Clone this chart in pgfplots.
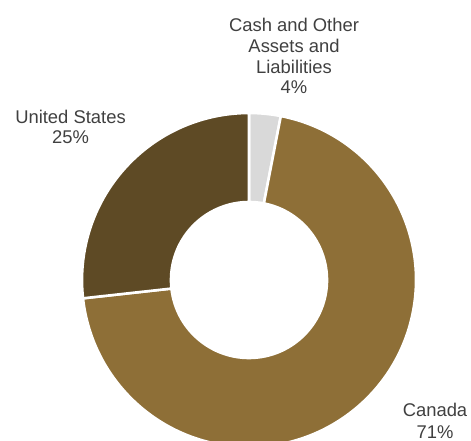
\documentclass[border=0pt]{standalone}
\usepackage{pgfplots}
\pgfplotsset{compat=1.18}
\usepackage{pgfplotstable}
\usepackage{fontspec}
\setmainfont{Liberation Sans}
\definecolor{cashgray}{HTML}{D9D9D9}
\definecolor{canadabrown}{HTML}{8E6F37}
\definecolor{usbrown}{HTML}{5E4A25}
\definecolor{labelgray}{HTML}{404040}
\pgfplotstableread{
label value color
Cash 3.05 cashgray
Canada 70.2 canadabrown
US 26.75 usbrown
}\shares
\begin{document}
\begin{tikzpicture}
\begin{axis}[
  x=1bp, y=1bp, xmin=0, xmax=471, ymin=0, ymax=441,
  hide axis, scale only axis, anchor=south west, at={(0,0)},
  clip=false,
]
\pgfplotsextra{
  \clip (axis cs:0,0) rectangle (axis cs:471,441);
  \xdef\cum{0}
  \foreach \i in {0,1,2}{
    \pgfplotstablegetelem{\i}{value}\of\shares \let\v\pgfplotsretval
    \pgfplotstablegetelem{\i}{color}\of\shares \let\c\pgfplotsretval
    \pgfmathsetmacro\a{90-3.6*\cum}
    \pgfmathsetmacro\b{90-3.6*(\cum+\v)}
    \fill[fill=\c, draw=white, line width=2.6bp, line join=miter]
      ([shift={(\a:167bp)}]axis cs:249,161) arc[start angle=\a, end angle=\b, radius=167bp]
      -- ([shift={(\b:78bp)}]axis cs:249,161) arc[start angle=\b, end angle=\a, radius=78bp]
      -- cycle;
    \pgfmathsetmacro\newcum{\cum+\v}
    \xdef\cum{\newcum}
  }
}
\begin{scope}[every node/.style={text=labelgray, font=\fontsize{18.4bp}{20bp}\selectfont, inner sep=0pt, anchor=base}]
\node at (axis cs:294,409) {Cash and Other};
\node at (axis cs:294,388.3) {Assets and};
\node at (axis cs:294,367.7) {Liabilities};
\node at (axis cs:294,347) {4\%};
\node at (axis cs:70.5,317) {United States};
\node at (axis cs:70.5,297.5) {25\%};
\node at (axis cs:435,24.5) {Canada};
\node at (axis cs:435,2.5) {71\%};
\end{scope}
\end{axis}
\end{tikzpicture}
\end{document}
